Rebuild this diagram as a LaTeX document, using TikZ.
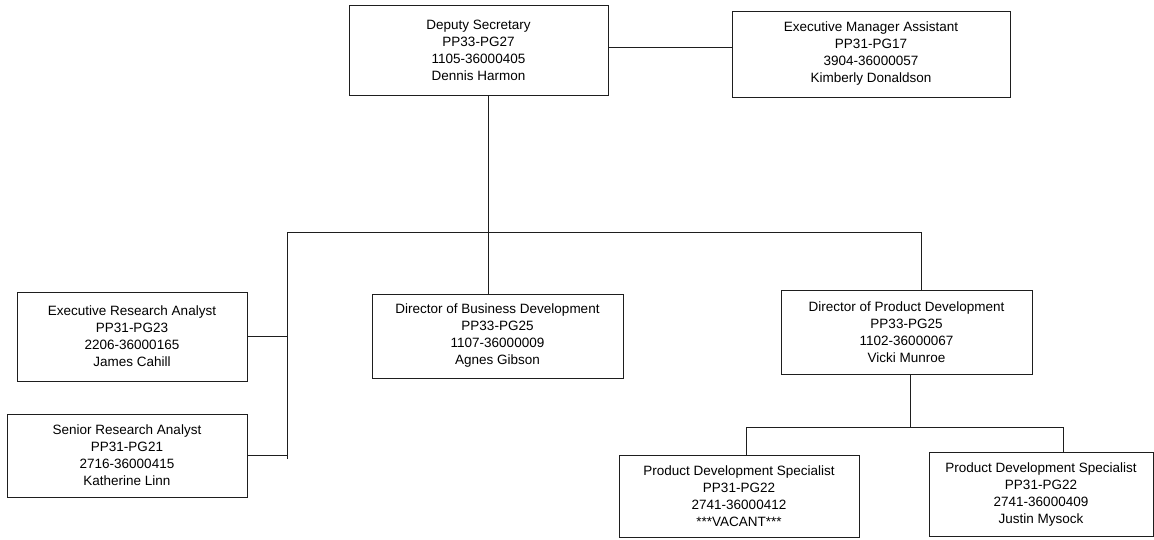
\documentclass[tikz,border=0pt]{standalone}
\usepackage{fontspec}
\setmainfont{Liberation Sans}
\usetikzlibrary{positioning,calc}
\definecolor{ink}{RGB}{30,30,30}
\tikzset{
  post/.style={draw=ink,line width=1pt,align=center,inner sep=0pt,text=black,font=\fontsize{13.5}{17}\selectfont},
  link/.style={draw=ink,line width=1pt},
}

\begin{document}
\begin{tikzpicture}[x=1pt,y=-1pt]
  \useasboundingbox (0,0) rectangle (1154,539);

  % Top level
  \node[post,minimum width=259pt,minimum height=90pt] (ds) at (478.5,50)
    {Deputy Secretary\\PP33-PG27\\1105-36000405\\Dennis Harmon};
  \node[post,minimum width=278pt,minimum height=86pt] (ema) at (871,54)
    {Executive Manager Assistant\\PP31-PG17\\3904-36000057\\Kimberly Donaldson};

  % Second level
  \node[post,minimum width=251pt,minimum height=84pt] (dbd) at (497.5,336)
    {Director of Business Development\\PP33-PG25\\1107-36000009\\Agnes Gibson};
  \node[post,minimum width=251pt,minimum height=84pt] (dpd) at (906.5,332)
    {Director of Product Development\\PP33-PG25\\1102-36000067\\Vicki Munroe};
  \node[post,minimum width=230pt,minimum height=89pt] (era) at (132,336.5)
    {Executive Research Analyst\\PP31-PG23\\2206-36000165\\James Cahill};
  \node[post,minimum width=240pt,minimum height=83pt] (sra) at (127,455.5)
    {Senior Research Analyst\\PP31-PG21\\2716-36000415\\Katherine Linn};

  % Third level
  \node[post,minimum width=240pt,minimum height=82pt] (pds1) at (739,496)
    {Product Development Specialist\\PP31-PG22\\2741-36000412\\***VACANT***};
  \node[post,minimum width=224pt,minimum height=84pt] (pds2) at (1041,494)
    {Product Development Specialist\\PP31-PG22\\2741-36000409\\Justin Mysock};

  % Connectors
  \coordinate (dsr) at ([yshift=3pt]ds.east);
  \draw[link] (dsr) -- (dsr -| ema.west);

  \coordinate (dsb) at ([xshift=9.5pt]ds.south);
  \draw[link] (dsb) -- (dsb |- dbd.north);

  \coordinate (jl) at (287,232);
  \coordinate (jr) at (921,232);
  \draw[link] (jl) -- (jr);
  \draw[link] (jr) -- (jr |- dpd.north);
  \draw[link] (jl) -- ([yshift=-3pt]jl |- sra.east);
  \draw[link] (era.east) -- (era.east -| jl);
  \draw[link] (sra.east) -- (sra.east -| jl);

  \coordinate (dpb) at ([xshift=3.5pt]dpd.south);
  \coordinate (pl) at (746,427);
  \coordinate (pr) at (1063,427);
  \draw[link] (dpb) -- (dpb |- pl);
  \draw[link] (pl) -- (pr);
  \draw[link] (pl) -- (pl |- pds1.north);
  \draw[link] (pr) -- (pr |- pds2.north);
\end{tikzpicture}
\end{document}
